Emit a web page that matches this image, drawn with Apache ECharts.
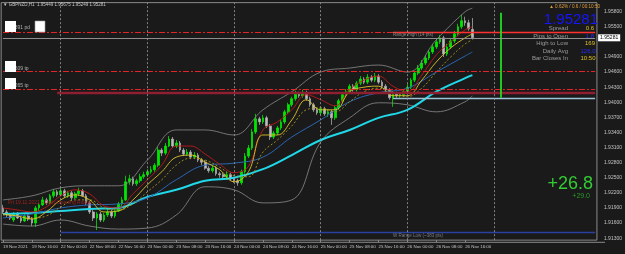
<!DOCTYPE html>
<html>
<head>
<meta charset="utf-8">
<script src="https://cdn.jsdelivr.net/npm/echarts@6/dist/echarts.min.js"></script>
<style>
html,body{margin:0;padding:0;background:#1a1a1a}
#chart{width:625px;height:254px}
</style>
</head>
<body>
<div id="chart"></div>
<script>
// hourly sessions shown on the chart (day, first hour, last hour), incl. empty future slots
var sessions = [['19 Nov',8,23],['22 Nov',0,23],['23 Nov',0,23],['24 Nov',0,23],['25 Nov',0,23],['26 Nov',0,23],['27 Nov',0,23],['28 Nov',0,4]];
var xTicks = ['19 Nov 2021','19 Nov 16:00','22 Nov 00:00','22 Nov 08:00','22 Nov 16:00','23 Nov 00:00','23 Nov 08:00','23 Nov 16:00',
  '24 Nov 00:00','24 Nov 08:00','24 Nov 16:00','25 Nov 00:00','25 Nov 08:00','25 Nov 16:00','26 Nov 00:00','26 Nov 08:00','26 Nov 16:00'];

// GBPNZD H1 candles: open, close, low, high
var ohlc = [
[1.9190,1.9182,1.9178,1.9196],[1.9182,1.9176,1.9172,1.9186],[1.9176,1.9170,1.9166,1.9180],[1.9166,1.9178,1.9162,1.9182],
[1.9178,1.9170,1.9168,1.9182],[1.9170,1.9164,1.9160,1.9174],[1.9164,1.9174,1.9162,1.9178],[1.9174,1.9168,1.9164,1.9178],
[1.9168,1.9160,1.9154,1.9172],[1.9160,1.9190,1.9152,1.9194],[1.9190,1.9196,1.9184,1.9200],[1.9196,1.9206,1.9194,1.9212],
[1.9206,1.9200,1.9196,1.9210],[1.9200,1.9214,1.9198,1.9218],[1.9214,1.9222,1.9210,1.9228],[1.9222,1.9216,1.9212,1.9226],
[1.9216,1.9224,1.9214,1.9230],[1.9224,1.9214,1.9210,1.9228],[1.9214,1.9220,1.9210,1.9224],[1.9220,1.9210,1.9206,1.9224],
[1.9210,1.9218,1.9208,1.9222],[1.9218,1.9224,1.9214,1.9230],[1.9224,1.9214,1.9212,1.9228],[1.9214,1.9200,1.9196,1.9218],
[1.9200,1.9182,1.9178,1.9204],[1.9182,1.9170,1.9164,1.9186],[1.9170,1.9178,1.9146,1.9182],[1.9178,1.9166,1.9162,1.9182],
[1.9166,1.9176,1.9162,1.9180],[1.9176,1.9182,1.9172,1.9188],[1.9182,1.9174,1.9170,1.9186],[1.9174,1.9184,1.9170,1.9188],
[1.9184,1.9198,1.9182,1.9202],[1.9198,1.9206,1.9194,1.9212],[1.9206,1.9242,1.9204,1.9254],[1.9242,1.9248,1.9236,1.9256],
[1.9248,1.9238,1.9234,1.9252],[1.9238,1.9244,1.9234,1.9248],[1.9244,1.9252,1.9240,1.9258],[1.9252,1.9256,1.9248,1.9262],
[1.9256,1.9262,1.9252,1.9267],[1.9262,1.9266,1.9258,1.9273],[1.9266,1.9275,1.9262,1.9279],[1.9275,1.9305,1.9271,1.9311],
[1.9305,1.9299,1.9293,1.9309],[1.9299,1.9313,1.9295,1.9319],[1.9313,1.9327,1.9311,1.9333],[1.9327,1.9313,1.9309,1.9331],
[1.9313,1.9319,1.9309,1.9325],[1.9319,1.9305,1.9301,1.9323],[1.9305,1.9297,1.9293,1.9309],[1.9297,1.9301,1.9293,1.9307],
[1.9301,1.9291,1.9287,1.9305],[1.9291,1.9295,1.9287,1.9301],[1.9295,1.9285,1.9281,1.9299],[1.9285,1.9281,1.9275,1.9289],
[1.9281,1.9269,1.9266,1.9285],[1.9269,1.9264,1.9260,1.9273],[1.9264,1.9269,1.9260,1.9275],[1.9269,1.9258,1.9254,1.9273],
[1.9258,1.9256,1.9250,1.9262],[1.9256,1.9252,1.9248,1.9260],[1.9252,1.9256,1.9248,1.9262],[1.9256,1.9248,1.9244,1.9260],
[1.9248,1.9244,1.9240,1.9252],[1.9244,1.9240,1.9234,1.9248],[1.9240,1.9262,1.9236,1.9266],[1.9262,1.9293,1.9258,1.9299],
[1.9293,1.9309,1.9289,1.9315],[1.9309,1.9341,1.9305,1.9347],[1.9341,1.9367,1.9337,1.9377],[1.9367,1.9361,1.9355,1.9371],
[1.9361,1.9369,1.9357,1.9375],[1.9369,1.9353,1.9349,1.9373],[1.9353,1.9331,1.9325,1.9357],[1.9331,1.9339,1.9327,1.9343],
[1.9339,1.9349,1.9335,1.9353],[1.9349,1.9361,1.9345,1.9365],[1.9361,1.9381,1.9357,1.9385],[1.9381,1.9395,1.9377,1.9399],
[1.9395,1.9407,1.9391,1.9411],[1.9407,1.9417,1.9403,1.9423],[1.9417,1.9413,1.9409,1.9421],[1.9413,1.9419,1.9409,1.9425],
[1.9419,1.9407,1.9403,1.9423],[1.9407,1.9395,1.9391,1.9411],[1.9395,1.9385,1.9381,1.9399],[1.9385,1.9379,1.9375,1.9389],
[1.9379,1.9387,1.9375,1.9391],[1.9387,1.9377,1.9373,1.9391],[1.9377,1.9381,1.9371,1.9385],[1.9381,1.9369,1.9355,1.9385],
[1.9369,1.9389,1.9365,1.9393],[1.9389,1.9403,1.9385,1.9407],[1.9403,1.9415,1.9399,1.9419],[1.9415,1.9421,1.9411,1.9426],
[1.9421,1.9432,1.9417,1.9436],[1.9432,1.9425,1.9421,1.9436],[1.9425,1.9438,1.9421,1.9442],[1.9438,1.9446,1.9434,1.9452],
[1.9446,1.9440,1.9436,1.9450],[1.9440,1.9450,1.9436,1.9456],[1.9450,1.9444,1.9440,1.9454],[1.9444,1.9452,1.9440,1.9458],
[1.9452,1.9440,1.9436,1.9456],[1.9440,1.9432,1.9428,1.9444],[1.9432,1.9425,1.9421,1.9436],[1.9425,1.9409,1.9405,1.9428],
[1.9409,1.9417,1.9391,1.9421],[1.9417,1.9413,1.9409,1.9421],[1.9413,1.9415,1.9409,1.9419],[1.9415,1.9421,1.9411,1.9425],
[1.9421,1.9430,1.9417,1.9436],[1.9430,1.9444,1.9426,1.9448],[1.9444,1.9458,1.9440,1.9462],[1.9458,1.9468,1.9454,1.9474],
[1.9468,1.9478,1.9464,1.9484],[1.9478,1.9488,1.9474,1.9494],[1.9488,1.9500,1.9484,1.9504],[1.9500,1.9510,1.9496,1.9516],
[1.9510,1.9520,1.9506,1.9526],[1.9520,1.9528,1.9516,1.9534],[1.9528,1.9496,1.9490,1.9532],[1.9496,1.9510,1.9492,1.9516],
[1.9510,1.9522,1.9506,1.9528],[1.9522,1.9536,1.9518,1.9542],[1.9536,1.9550,1.9532,1.9556],[1.9550,1.9562,1.9546,1.9574],
[1.9562,1.9558,1.9552,1.9570],[1.9558,1.9546,1.9542,1.9564],[1.95449,1.95281,1.95249,1.95675]
];

// indicator readings, every 8 bars (idx8) or every 4 bars (idx4)
var idx8 = [0,8,16,24,32,40,48,56,64,72,80,88,96,104,112,120,128,130];
var idx4 = [0,4,8,12,16,20,24,28,32,36,40,44,48,52,56,60,64,68,72,76,80,84,88,92,96,100,104,108,112,116,120,124,128,130];
var maSlow  = [1.9178,1.9180,1.9184,1.9188,1.9190,1.9212,1.9226,1.9244,1.9250,1.9267,1.9295,1.9325,1.9345,1.9369,1.9385,1.9421,1.9448,1.9454];
var maMid   = [1.9170,1.9178,1.9190,1.9196,1.9198,1.9210,1.9246,1.9275,1.9279,1.9291,1.9331,1.9365,1.9401,1.9419,1.9428,1.9460,1.9492,1.9500];
var bbUpper = [1.9206,1.9214,1.9230,1.9234,1.9234,1.9285,1.9345,1.9345,1.9335,1.9385,1.9421,1.9460,1.9468,1.9474,1.9460,1.9524,1.9580,1.9587];
var bbLower = [1.9158,1.9154,1.9166,1.9154,1.9148,1.9150,1.9176,1.9232,1.9226,1.9200,1.9206,1.9321,1.9369,1.9399,1.9395,1.9381,1.9401,1.9413];
var maFast  = [1.9178,1.9174,1.9168,1.9182,1.9206,1.9216,1.9206,1.9182,1.9184,1.9206,1.9236,1.9262,1.9291,1.9295,1.9281,1.9266,1.9242,
               1.9262,1.9335,1.9335,1.9365,1.9405,1.9385,1.9385,1.9421,1.9430,1.9432,1.9413,1.9413,1.9444,1.9480,1.9508,1.9528,1.9536];
var maFast2 = [1.9176,1.9174,1.9170,1.9174,1.9192,1.9206,1.9206,1.9190,1.9186,1.9198,1.9222,1.9246,1.9275,1.9289,1.9285,1.9271,1.9254,
               1.9252,1.9301,1.9325,1.9353,1.9385,1.9389,1.9381,1.9401,1.9421,1.9428,1.9421,1.9411,1.9428,1.9460,1.9490,1.9516,1.9524];
var maHigh  = [1.9190,1.9186,1.9182,1.9192,1.9214,1.9226,1.9218,1.9194,1.9190,1.9218,1.9246,1.9275,1.9313,1.9313,1.9297,1.9277,1.9260,
               1.9273,1.9345,1.9361,1.9385,1.9415,1.9405,1.9393,1.9425,1.9444,1.9452,1.9432,1.9421,1.9454,1.9494,1.9520,1.9544,1.9550];

// horizontal levels
var pdHigh = 1.9539, tp1 = 1.9461, tp2 = 1.94265, dayOpen = 1.9419, rangeLow = 1.9408, wRangeLow = 1.9142, bid = 1.95281;
var dayStarts = [16,40,64,88,112,136];

var categories = [];
sessions.forEach(function (s) {
    for (var h = s[1]; h <= s[2]; h++) categories.push(s[0] + ' ' + (h < 10 ? '0' : '') + h + ':00');
});
function pts(idx, vals) { return idx.map(function (k, j) { return [k, vals[j]]; }); }

var FONT = '"Liberation Sans", Arial, sans-serif';
var last = categories.length - 1;
var dashDot = [6, 2, 2, 2];
var lvlRed = '#e02626';

function line(name, idx, vals, color, width, type) {
    return {
        name: name, type: 'line', data: pts(idx, vals), smooth: 0.4, showSymbol: false, z: 3,
        lineStyle: { color: color, width: width, type: type || 'solid' }, silent: true
    };
}
// horizontal segment from category a to the right edge
function hseg(a, v, style, label) {
    var start = { coord: [a, v], lineStyle: style };
    if (label) start.label = label;
    return [start, { coord: [last, v] }];
}

var showTick = function (i) { return i % 8 === 0 && i <= 128; };

var chart = echarts.init(document.getElementById('chart'));
chart.setOption({
    backgroundColor: '#1a1a1a',
    animation: false,
    grid: { left: 1, top: 2.64, width: 603.9, height: 237.5, show: true, borderColor: '#8a8a8a', borderWidth: 1 },
    xAxis: {
        type: 'category', data: categories, boundaryGap: true,
        axisLine: { show: false },
        axisTick: { show: true, interval: showTick, alignWithLabel: true, length: 2, lineStyle: { color: '#8a8a8a' } },
        axisLabel: {
            interval: showTick, align: 'left', margin: 5, fontSize: 4.4, fontFamily: FONT, color: '#c4c4c4',
            formatter: function (v, i) { return xTicks[i / 8] || ''; }
        },
        splitLine: { show: false }
    },
    yAxis: {
        type: 'value', position: 'right', min: 1.9126, max: 1.9598, interval: 0.0002,
        axisLine: { show: false }, axisTick: { show: false }, splitLine: { show: false },
        axisLabel: {
            margin: 7, fontSize: 5, fontFamily: FONT, color: '#c4c4c4',
            formatter: function (v) {
                var k = Math.round(v * 10000) - 19130;
                if (k < 0 || k % 30 !== 0) return '';
                var s = (Math.round(v * 10000) / 10000).toFixed(5);
                return s === '1.95200' ? '' : s;
            }
        }
    },
    series: [
        line('BB upper', idx8, bbUpper, '#8c8c8c', 0.8),
        line('BB lower', idx8, bbLower, '#8c8c8c', 0.8),
        line('MA slow', idx8, maSlow, '#20d8e8', 2),
        line('MA mid', idx8, maMid, '#2a66b0', 1),
        line('MA high', idx4, maHigh, '#c01a1a', 0.9),
        line('MA fast 2', idx4, maFast2, '#a89a20', 0.9, [2, 2]),
        line('MA fast', idx4, maFast, '#dcc428', 0.9),
        {
            name: 'GBPNZD', type: 'candlestick', data: ohlc, barWidth: 2.2, z: 2,
            itemStyle: { color: '#00e600', color0: '#bdbdbd', borderColor: '#00e600', borderColor0: '#a8a8a8', borderWidth: 0.8 },
            markLine: {
                silent: true, symbol: ['none', 'none'], animation: false,
                label: { show: false },
                data: [
                    hseg(0, pdHigh, { color: lvlRed, width: 1, type: dashDot }),
                    hseg(108, pdHigh, { color: '#ff3030', width: 1.3, type: 'solid' }),
                    hseg(0, tp1, { color: lvlRed, width: 1, type: dashDot }),
                    hseg(0, tp2, { color: lvlRed, width: 1, type: dashDot }),
                    hseg(15, dayOpen, { color: '#8e1f30', width: 2.4, type: 'solid' }),
                    hseg(108, rangeLow, { color: '#9cc2d6', width: 1.4, type: 'solid' }),
                    hseg(16, wRangeLow, { color: '#2b40a0', width: 1.4, type: 'solid' }),
                    [{ coord: [138, 1.9578], lineStyle: { color: '#22dd22', width: 1.8, type: 'solid' } }, { coord: [138, 1.9409] }],
                    hseg(0, bid, { color: '#8e8e8e', width: 1, type: 'solid' }, {
                        show: true, position: 'end', distance: 3, formatter: '1.95281', color: '#000',
                        backgroundColor: '#ffffff', fontSize: 5, fontFamily: FONT, padding: [1, 2]
                    })
                ].concat(dayStarts.map(function (d) {
                    return { xAxis: d, lineStyle: { color: '#9a9a9a', width: 0.8, type: [2, 2] } };
                }))
            }
        }
    ],
    graphic: [
        { type: 'text', x: 3, y: 5, z: 50, style: { text: '\u25BC GBPNZD,H1  1.95449 1.95675 1.95249 1.95281', fill: '#c8c8c8', font: '4.5px ' + FONT, textVerticalAlign: 'middle' } },
        { type: 'text', x: 5, y: 28, z: 50, style: { text: '1.95391 pd', fill: '#b0b0b0', font: '5px ' + FONT, textVerticalAlign: 'middle' } },
        { type: 'text', x: 5, y: 69, z: 50, style: { text: '1.94609 tp', fill: '#b0b0b0', font: '5px ' + FONT, textVerticalAlign: 'middle' } },
        { type: 'text', x: 5, y: 86, z: 50, style: { text: '1.94265 tp', fill: '#b0b0b0', font: '5px ' + FONT, textVerticalAlign: 'middle' } },
        { type: 'rect', z: 60, shape: { x: 5, y: 21, width: 11, height: 11 }, style: { fill: '#ffffff' } },
        { type: 'rect', z: 60, shape: { x: 35, y: 21, width: 10, height: 11 }, style: { fill: '#ffffff', stroke: '#9a9a9a', lineWidth: 0.6 } },
        { type: 'rect', z: 60, shape: { x: 5, y: 61, width: 11, height: 11 }, style: { fill: '#ffffff' } },
        { type: 'rect', z: 60, shape: { x: 5, y: 78, width: 11, height: 11 }, style: { fill: '#ffffff' } },
        { type: 'text', x: 8, y: 203, z: 50, style: { text: 'Fri 19.11.2021 - Daily Opening Range', fill: '#9a2020', font: '5px ' + FONT, textVerticalAlign: 'middle' } },
        { type: 'text', x: 393, y: 35, z: 50, style: { text: 'Range High (14 pts)', fill: '#8a8a8a', font: '4.5px ' + FONT, textVerticalAlign: 'middle' } },
        { type: 'text', x: 393, y: 235.5, z: 50, style: { text: 'W Range Low (~383 pts)', fill: '#7c7c7c', font: '4.5px ' + FONT, textVerticalAlign: 'middle' } },
        { type: 'text', x: 600, y: 7, z: 50, style: { text: '\u25B2 0.62% / 0.6 / 00:10:50', fill: '#e0a040', font: '4.6px ' + FONT, textAlign: 'right', textVerticalAlign: 'middle' } },
        { type: 'text', x: 598, y: 20, z: 50, style: { text: '1.95281', fill: '#1515ff', font: '15px ' + FONT, textAlign: 'right', textVerticalAlign: 'middle' } },
        { type: 'text', x: 568, y: 28.5, z: 50, style: { text: 'Spread', fill: '#9c9c9c', font: '6px ' + FONT, textAlign: 'right', textVerticalAlign: 'middle' } },
        { type: 'text', x: 568, y: 36, z: 50, style: { text: 'Pips to Open', fill: '#9c9c9c', font: '6px ' + FONT, textAlign: 'right', textVerticalAlign: 'middle' } },
        { type: 'text', x: 568, y: 43.5, z: 50, style: { text: 'High to Low', fill: '#9c9c9c', font: '6px ' + FONT, textAlign: 'right', textVerticalAlign: 'middle' } },
        { type: 'text', x: 568, y: 51, z: 50, style: { text: 'Daily Avg', fill: '#9c9c9c', font: '6px ' + FONT, textAlign: 'right', textVerticalAlign: 'middle' } },
        { type: 'text', x: 568, y: 58.5, z: 50, style: { text: 'Bar Closes In', fill: '#9c9c9c', font: '6px ' + FONT, textAlign: 'right', textVerticalAlign: 'middle' } },
        { type: 'text', x: 590, y: 28.5, z: 50, style: { text: '0.6', fill: '#e0c020', font: '6px ' + FONT, textAlign: 'center', textVerticalAlign: 'middle' } },
        { type: 'text', x: 590, y: 36, z: 50, style: { text: '1.8', fill: '#2a2aff', font: '6px ' + FONT, textAlign: 'center', textVerticalAlign: 'middle' } },
        { type: 'text', x: 590, y: 43.5, z: 50, style: { text: '169', fill: '#e0c020', font: '6px ' + FONT, textAlign: 'center', textVerticalAlign: 'middle' } },
        { type: 'text', x: 588, y: 51, z: 50, style: { text: '126.0', fill: '#2a2aff', font: '6px ' + FONT, textAlign: 'center', textVerticalAlign: 'middle' } },
        { type: 'text', x: 588, y: 58.5, z: 50, style: { text: '10:50', fill: '#e0c020', font: '6px ' + FONT, textAlign: 'center', textVerticalAlign: 'middle' } },
        { type: 'text', x: 593, y: 184, z: 50, style: { text: '+26.8', fill: '#33cc33', font: '18px ' + FONT, textAlign: 'right', textVerticalAlign: 'middle' } },
        { type: 'text', x: 590, y: 196, z: 50, style: { text: '+29.0', fill: '#2a9a2a', font: '7px ' + FONT, textAlign: 'right', textVerticalAlign: 'middle' } },
        { type: 'line', z: 50, shape: { x1: 1, y1: 242.3, x2: 605, y2: 242.3 }, style: { stroke: '#8a8a8a', lineWidth: 1 } }
    ]
});
</script>
</body>
</html>
